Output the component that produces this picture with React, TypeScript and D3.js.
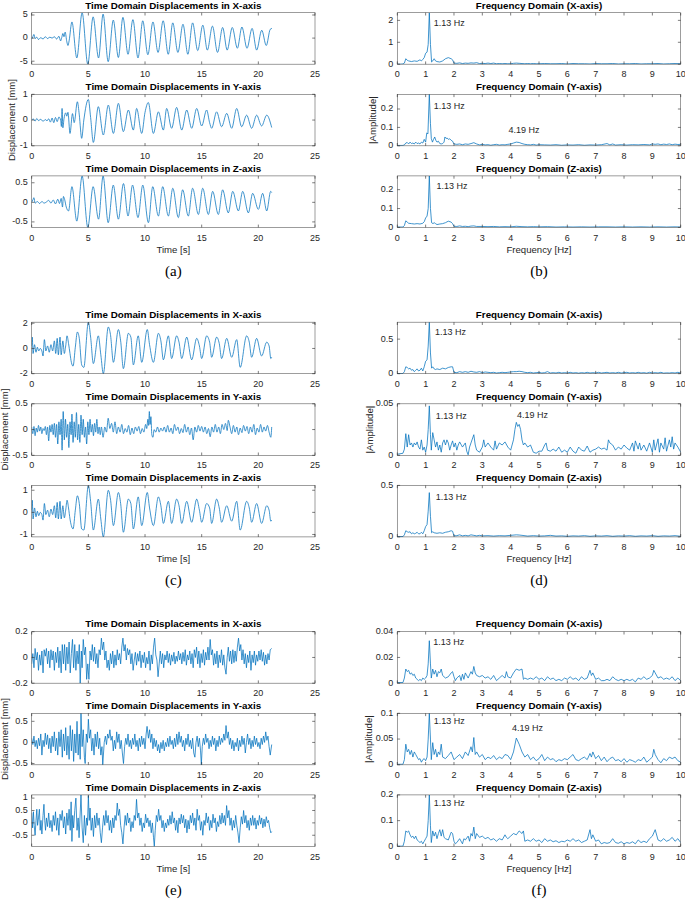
import React from 'react';
import * as d3 from 'd3';

type P = [number, number];

// ---------- tick labels / titles ----------
const timeTicks = [0, 5, 10, 15, 20, 25];
const freqTicks = [0, 1, 2, 3, 4, 5, 6, 7, 8, 9, 10];
const timeTitles = [
  'Time Domain Displacements in X-axis',
  'Time Domain Displacements in Y-axis',
  'Time Domain Displacements in Z-axis',
];
const freqTitles = ['Frequency Domain (X-axis)', 'Frequency Domain (Y-axis)', 'Frequency Domain (Z-axis)'];
const captionsLeft = ['(a)', '(c)', '(e)'];
const captionsRight = ['(b)', '(d)', '(f)'];

// ---------- time domain series ----------
const aX: P[] = [[0,-0.2],[0.1,0.3],[0.2,0.8],[0.3,-0.1],[0.45,0.2],[0.6,-0.3],[0.8,0.1],[1.0,-0.2],[1.2,0.3],[1.4,-0.1],[1.6,0.2],[1.8,0.0],[2.0,0.3],[2.2,-0.2],[2.4,0.4],[2.55,-0.6],[2.65,0.1],[2.75,1.0],[2.85,0.3],[2.95,1.3],[3.1,-0.8],[3.2,-1.6],[3.3,-0.6],
[3.55,3.5],[3.98,-4.3],[4.45,5.5],[4.95,-5.65],[5.42,4.6],[5.9,-4.3],[6.3,5.2],[6.75,-5.1],[7.2,3.9],[7.65,-4.2],[8.05,4.5],[8.5,-3.5],[8.93,4.0],[9.38,-4.3],[9.8,3.75],[10.25,-3.6],[10.7,3.5],[11.15,-3.1],[11.6,3.75],[12.05,-3.5],[12.45,3.3],[12.9,-3.1],[13.35,3.0],[13.78,-3.5],[14.2,3.3],[14.65,-2.7],[15.1,2.8],[15.5,-2.6],[15.95,2.6],[16.4,-3.1],[16.85,2.3],[17.25,-2.6],[17.7,2.3],[18.15,-2.2],[18.55,2.4],[19.0,-2.2],[19.45,2.1],[19.85,-2.6],[20.3,1.7],[20.7,-1.6],[21.05,1.9],[21.2,2.1]];

const aY: P[] = [[0,0.0],[0.15,0.04],[0.3,-0.04],[0.45,0.06],[0.6,-0.02],[0.8,0.03],[1.0,-0.05],[1.2,0.02],[1.35,-0.03],[1.5,0.05],[1.65,-0.08],[1.8,0.08],[1.95,-0.1],[2.1,0.1],[2.25,-0.06],[2.4,0.12],[2.55,0.0],[2.62,-0.25],[2.68,0.45],[2.75,-0.3],[2.85,0.05],[3.0,0.28],[3.1,0.15],[3.2,0.3],[3.38,-0.52],[3.6,0.25],[3.75,-0.1],[4.03,0.71],[4.2,0.2],[4.41,-0.71],[4.6,0.0],[5.0,0.8],[5.2,0.1],[5.44,-0.87],[5.88,0.52],[6.32,-0.58],[6.76,0.58],[7.21,-0.52],[7.65,0.65],[8.09,-0.45],[8.53,0.39],[8.97,-0.39],[9.26,0.45],[9.71,-0.52],[10.0,0.3],[10.29,0.68],[10.74,-0.52],[11.18,0.32],[11.62,-0.39],[11.91,0.45],[12.35,-0.32],[12.79,0.49],[13.24,-0.39],[13.68,0.39],[14.12,-0.32],[14.56,0.45],[15.0,-0.23],[15.44,0.39],[15.7,-0.1],[15.88,-0.32],[16.32,0.32],[16.76,-0.26],[17.21,0.26],[17.65,-0.32],[18.09,0.45],[18.53,-0.26],[18.97,0.19],[19.41,-0.32],[19.85,0.19],[20.29,-0.23],[20.74,0.19],[21.18,-0.29]];

const aZ: P[] = [[0,0.0],[0.1,0.06],[0.2,0.12],[0.3,-0.02],[0.5,0.02],[0.7,-0.03],[0.9,0.02],[1.1,-0.02],[1.3,0.01],[1.5,0.05],[1.7,-0.02],[1.9,0.06],[2.1,-0.04],[2.3,0.08],[2.45,-0.03],[2.6,0.1],[2.72,-0.12],[2.8,0.15],[2.9,0.08],[3.05,-0.12],[3.25,-0.22],[3.55,0.4],[3.98,-0.48],[4.45,0.67],[4.95,-0.64],[5.42,0.4],[5.9,-0.43],[6.3,0.67],[6.75,-0.52],[7.2,0.44],[7.65,-0.43],[8.1,0.48],[8.5,-0.35],[8.9,0.44],[9.38,-0.39],[9.8,0.44],[10.3,-0.52],[10.68,0.4],[11.18,-0.35],[11.56,0.4],[12.06,-0.35],[12.45,0.36],[12.94,-0.39],[13.32,0.32],[13.82,-0.35],[14.2,0.36],[14.71,-0.31],[15.09,0.36],[15.59,-0.31],[15.97,0.28],[16.47,-0.31],[16.85,0.32],[17.35,-0.27],[17.74,0.28],[18.24,-0.22],[18.62,0.28],[19.12,-0.27],[19.5,0.23],[20.0,-0.18],[20.38,0.23],[20.74,-0.22],[21.09,0.28],[21.18,0.25]];

const cX: P[] = [[0,0.2],[0.05,0.9],[0.12,-0.4],[0.25,0.3],[0.38,-0.3],[0.5,0.1],[0.62,-0.2],[0.75,0.0],[0.9,-0.2],[1.0,-0.6],[1.12,0.7],[1.25,-0.2],[1.4,0.2],[1.55,-0.3],[1.7,0.3],[1.85,-0.2],[2.0,0.6],[2.12,-0.4],[2.25,0.8],[2.35,-0.5],[2.5,0.9],[2.6,-0.5],[2.75,0.6],[2.88,-0.4],[3.0,0.2],[3.12,1.0],[3.25,0.4],[3.38,-0.4],[3.5,-1.1],[3.65,-1.4],[3.85,0.1],[4.03,1.3],[4.2,0.8],[4.41,-1.3],[4.6,-1.5],[5.0,2.08],[5.2,0.9],[5.44,-1.2],[5.88,1.0],[6.1,-0.5],[6.32,-2.0],[6.76,1.7],[6.95,1.1],[7.21,-1.1],[7.65,1.5],[7.85,0.6],[8.09,-1.6],[8.53,1.2],[8.75,0.9],[8.97,-1.3],[9.4,1.0],[9.71,-1.1],[10.2,1.5],[10.4,0.3],[10.74,-1.1],[11.18,1.2],[11.4,0.6],[11.62,-0.9],[12.06,1.0],[12.35,-0.8],[12.79,1.0],[13.0,0.5],[13.24,-0.8],[13.68,0.9],[14.12,-0.9],[14.56,0.8],[14.8,0.2],[15.0,-0.8],[15.44,1.0],[15.7,0.5],[15.88,-0.7],[16.32,0.9],[16.55,0.4],[16.76,-0.8],[17.21,0.8],[17.65,-0.7],[18.09,0.7],[18.4,-1.5],[18.97,1.0],[19.2,0.5],[19.41,-0.7],[19.85,0.8],[20.29,-0.6],[20.74,0.5],[20.95,0.2],[21.1,-0.8],[21.18,-0.7]];

const cY: P[] = [[0,0.05],[0.1,-0.08],[0.2,0.06],[0.3,-0.12],[0.4,0.03],[0.5,-0.05],[0.6,0.08],[0.7,-0.03],[0.8,0.05],[0.9,-0.08],[1.0,0.02],[1.1,-0.02],[1.2,0.06],[1.3,-0.1],[1.4,0.05],[1.5,-0.22],[1.6,0.08],[1.7,-0.05],[1.8,0.1],[1.9,-0.1],[2.0,0.12],[2.1,-0.15],[2.2,0.1],[2.3,-0.28],[2.4,0.15],[2.5,-0.1],[2.6,0.2],[2.68,-0.4],[2.78,0.35],[2.88,-0.2],[2.98,0.2],[3.08,-0.15],[3.18,0.1],[3.28,-0.35],[3.38,0.15],[3.48,-0.1],[3.55,0.3],[3.65,-0.25],[3.75,0.15],[3.85,-0.15],[3.95,0.33],[4.05,-0.2],[4.15,0.1],[4.25,-0.25],[4.35,0.28],[4.45,-0.1],[4.55,0.2],[4.65,-0.15],[4.75,0.05],[4.85,-0.28],[4.95,0.15],[5.05,-0.1],[5.15,0.2],[5.25,-0.05],[5.35,0.1],[5.45,-0.12],[5.55,0.12],[5.65,-0.05],[5.75,0.2],[5.85,-0.08],[5.95,0.05],[6.05,-0.1],[6.15,0.05],[6.3,-0.15],[6.45,0.05],[6.6,-0.05],[6.75,0.22],[6.9,0.02],[7.05,0.12],[7.2,-0.05],[7.35,0.15],[7.5,-0.08],[7.65,0.05],[7.8,-0.05],[7.95,0.1],[8.1,-0.08],[8.25,0.02],[8.4,-0.05],[8.55,0.08],[8.7,-0.1],[8.85,0.03],[9.0,-0.08],[9.15,0.05],[9.3,-0.03],[9.45,0.06],[9.6,-0.08],[9.75,0.02],[9.9,-0.05],[10.05,0.1],[10.15,0.02],[10.25,0.2],[10.32,0.08],[10.38,0.35],[10.45,0.1],[10.52,0.25],[10.6,-0.1],[10.7,-0.15],[10.8,0.0],[10.95,-0.05],[11.1,0.05],[11.25,-0.05],[11.4,0.03],[11.55,-0.03],[11.7,0.05],[11.85,-0.05],[12.0,0.08],[12.15,-0.05],[12.3,0.03],[12.45,-0.08],[12.6,0.1],[12.75,-0.02],[12.9,0.05],[13.05,-0.08],[13.2,0.02],[13.35,-0.06],[13.5,0.1],[13.65,-0.05],[13.8,0.05],[13.95,-0.1],[14.1,0.03],[14.25,-0.2],[14.4,0.05],[14.55,-0.05],[14.7,0.08],[14.85,-0.03],[15.0,0.06],[15.15,-0.05],[15.3,0.05],[15.45,-0.08],[15.6,0.02],[15.75,-0.14],[15.9,0.05],[16.05,-0.05],[16.2,0.1],[16.35,-0.05],[16.5,0.05],[16.65,-0.08],[16.8,0.1],[16.95,0.0],[17.1,0.12],[17.25,-0.02],[17.35,0.18],[17.5,0.05],[17.65,-0.08],[17.8,0.08],[17.95,-0.05],[18.1,0.05],[18.25,-0.1],[18.4,0.03],[18.55,-0.06],[18.7,0.08],[18.85,-0.03],[19.0,0.06],[19.15,-0.08],[19.3,0.05],[19.45,-0.05],[19.6,0.1],[19.75,-0.1],[19.9,0.03],[20.05,-0.05],[20.2,0.1],[20.35,-0.05],[20.5,0.05],[20.65,-0.03],[20.8,0.08],[20.95,-0.05],[21.1,-0.15],[21.18,0.05]];

const cZ: P[] = [[0,0.1],[0.05,0.55],[0.12,-0.3],[0.25,0.2],[0.38,-0.2],[0.5,0.05],[0.62,-0.15],[0.75,0.0],[0.9,-0.1],[1.0,-0.35],[1.12,0.4],[1.25,-0.1],[1.4,0.1],[1.55,-0.2],[1.7,0.15],[1.85,-0.1],[2.0,0.3],[2.12,-0.25],[2.25,0.45],[2.35,-0.3],[2.5,0.5],[2.6,-0.3],[2.75,0.3],[2.88,-0.25],[3.0,0.1],[3.12,0.55],[3.25,0.2],[3.38,-0.3],[3.5,-0.6],[3.65,-0.75],[3.85,0.1],[4.03,0.75],[4.2,0.4],[4.41,-0.75],[4.6,-0.8],[5.0,1.22],[5.2,0.5],[5.44,-0.8],[5.88,0.6],[6.1,-0.3],[6.32,-1.11],[6.76,1.0],[6.95,0.6],[7.21,-0.6],[7.65,0.9],[7.85,0.4],[8.09,-0.9],[8.53,0.6],[8.75,0.4],[8.97,-0.75],[9.4,0.7],[9.71,-0.6],[10.2,0.9],[10.4,0.2],[10.74,-0.6],[11.18,0.7],[11.4,0.3],[11.62,-0.5],[12.06,0.5],[12.35,-0.5],[12.79,0.6],[13.0,0.3],[13.24,-0.5],[13.68,0.5],[14.12,-0.45],[14.56,0.6],[14.8,0.1],[15.0,-0.45],[15.44,0.4],[15.7,0.2],[15.88,-0.5],[16.32,0.6],[16.55,0.2],[16.76,-0.45],[17.21,0.3],[17.65,-0.4],[18.09,0.5],[18.4,-0.8],[18.97,0.5],[19.2,0.2],[19.41,-0.45],[19.85,0.4],[20.29,-0.5],[20.74,0.3],[20.95,0.1],[21.1,-0.4],[21.18,-0.35]];

const eX: P[] = [[0,-0.05],[0.1,0.03],[0.2,-0.08],[0.3,0.07],[0.4,-0.02],[0.5,0.04],[0.6,-0.1],[0.7,0.02],[0.8,-0.06],[0.9,0.05],[1.0,-0.12],[1.1,0.06],[1.2,0.01],[1.3,0.07],[1.4,-0.05],[1.5,0.05],[1.6,-0.08],[1.7,0.06],[1.8,-0.02],[1.9,0.05],[2.0,-0.1],[2.1,0.04],[2.2,-0.04],[2.3,0.08],[2.4,-0.08],[2.5,0.05],[2.6,-0.12],[2.7,0.1],[2.8,-0.05],[2.9,0.1],[3.0,-0.1],[3.1,0.08],[3.2,-0.05],[3.3,0.12],[3.4,-0.12],[3.5,0.03],[3.6,0.14],[3.7,-0.08],[3.8,0.1],[3.9,-0.1],[4.0,0.05],[4.1,-0.05],[4.2,0.1],[4.28,-0.2],[4.38,0.05],[4.45,-0.08],[4.55,0.14],[4.65,0.02],[4.75,0.08],[4.85,-0.17],[4.95,-0.05],[5.05,-0.17],[5.15,0.05],[5.25,-0.02],[5.35,0.1],[5.45,-0.03],[5.55,0.08],[5.65,-0.05],[5.75,0.03],[5.85,-0.08],[5.95,0.06],[6.05,0.02],[6.15,0.15],[6.25,0.06],[6.35,0.12],[6.45,-0.02],[6.55,0.05],[6.65,-0.08],[6.75,-0.02],[6.85,-0.1],[6.95,0.03],[7.05,-0.05],[7.15,0.05],[7.25,-0.08],[7.35,0.02],[7.45,-0.06],[7.55,0.06],[7.65,-0.02],[7.75,0.03],[7.85,-0.05],[7.95,0.08],[8.05,0.15],[8.15,0.05],[8.25,0.1],[8.35,-0.02],[8.45,0.07],[8.55,0.02],[8.65,0.06],[8.75,-0.05],[8.85,0.03],[8.95,-0.1],[9.05,-0.02],[9.15,0.04],[9.25,-0.06],[9.35,0.03],[9.45,-0.03],[9.55,0.05],[9.65,-0.08],[9.75,0.02],[9.85,-0.04],[9.95,0.04],[10.05,-0.08],[10.15,0.0],[10.25,-0.05],[10.35,0.05],[10.45,-0.1],[10.55,0.02],[10.65,-0.05],[10.75,0.08],[10.85,0.15],[10.95,0.02],[11.05,-0.02],[11.15,-0.15],[11.25,-0.05],[11.35,0.05],[11.45,-0.05],[11.55,0.03],[11.65,-0.08],[11.75,0.02],[11.85,-0.02],[11.95,0.05],[12.05,-0.04],[12.15,0.03],[12.25,-0.06],[12.35,0.02],[12.45,-0.03],[12.55,0.04],[12.65,-0.05],[12.75,0.01],[12.85,-0.03],[12.95,0.05],[13.05,-0.02],[13.15,0.03],[13.25,-0.05],[13.35,0.04],[13.45,-0.03],[13.55,0.06],[13.65,-0.06],[13.75,0.02],[13.85,-0.02],[13.95,0.05],[14.05,-0.05],[14.15,0.03],[14.25,-0.08],[14.35,0.06],[14.45,0.0],[14.55,0.08],[14.65,-0.05],[14.75,0.05],[14.85,-0.08],[14.95,0.03],[15.05,-0.04],[15.15,0.06],[15.25,-0.06],[15.35,0.04],[15.45,-0.02],[15.55,0.08],[15.65,-0.02],[15.75,0.14],[15.85,0.02],[15.95,0.06],[16.05,-0.06],[16.15,0.03],[16.25,-0.05],[16.35,0.05],[16.45,-0.08],[16.55,0.02],[16.65,-0.04],[16.75,0.06],[16.85,-0.06],[16.95,0.02],[17.05,-0.08],[17.15,-0.13],[17.25,0.0],[17.35,0.08],[17.45,-0.03],[17.55,0.05],[17.65,-0.05],[17.75,0.06],[17.85,-0.04],[17.95,0.05],[18.05,-0.03],[18.15,0.08],[18.25,0.15],[18.35,0.05],[18.45,0.1],[18.55,-0.02],[18.65,0.06],[18.75,-0.05],[18.85,0.03],[18.95,-0.08],[19.05,0.02],[19.15,-0.04],[19.25,0.05],[19.35,-0.1],[19.45,0.02],[19.55,-0.04],[19.65,0.05],[19.75,-0.06],[19.85,0.02],[19.95,-0.03],[20.05,0.05],[20.15,-0.02],[20.25,0.06],[20.35,-0.03],[20.45,0.04],[20.55,-0.06],[20.65,0.02],[20.75,-0.05],[20.85,0.03],[20.95,-0.02],[21.05,0.06],[21.18,0.07]];

const eY: P[] = [[0,0.1],[0.1,-0.05],[0.2,0.15],[0.3,-0.1],[0.4,0.05],[0.5,-0.15],[0.6,0.1],[0.7,-0.08],[0.8,0.2],[0.9,-0.3],[1.0,0.05],[1.1,-0.1],[1.2,0.22],[1.3,-0.05],[1.4,0.18],[1.5,-0.15],[1.6,0.1],[1.7,-0.25],[1.8,0.15],[1.9,-0.1],[2.0,0.25],[2.1,-0.2],[2.2,0.1],[2.3,-0.3],[2.4,0.25],[2.5,-0.1],[2.6,0.3],[2.7,-0.35],[2.8,0.2],[2.9,-0.2],[3.0,0.35],[3.1,-0.3],[3.2,0.15],[3.3,-0.4],[3.4,0.4],[3.5,-0.2],[3.6,0.3],[3.7,-0.45],[3.8,0.2],[3.9,-0.25],[4.0,0.5],[4.1,-0.3],[4.2,0.2],[4.28,-0.4],[4.35,0.69],[4.45,-0.1],[4.55,0.3],[4.65,-0.35],[4.72,-0.5],[4.82,0.2],[4.92,0.0],[5.0,0.55],[5.1,0.1],[5.2,0.3],[5.3,-0.2],[5.4,0.1],[5.5,-0.3],[5.6,0.2],[5.7,-0.1],[5.8,0.25],[5.9,-0.15],[6.0,0.1],[6.1,-0.3],[6.2,-0.1],[6.27,-0.53],[6.4,0.0],[6.5,0.15],[6.6,-0.05],[6.7,0.2],[6.8,0.1],[6.9,0.3],[7.0,0.05],[7.1,0.15],[7.2,-0.2],[7.3,0.05],[7.4,-0.15],[7.5,0.25],[7.6,0.0],[7.7,0.2],[7.8,-0.15],[7.9,0.05],[8.0,-0.25],[8.1,-0.5],[8.2,-0.1],[8.3,0.1],[8.4,-0.05],[8.5,0.2],[8.6,-0.1],[8.7,0.05],[8.8,-0.15],[8.9,0.1],[9.0,-0.05],[9.1,0.2],[9.2,-0.1],[9.3,0.05],[9.4,-0.2],[9.5,0.1],[9.6,-0.1],[9.7,0.15],[9.8,-0.05],[9.9,0.1],[10.0,-0.15],[10.1,0.2],[10.18,0.38],[10.3,0.1],[10.4,0.3],[10.5,0.0],[10.6,0.2],[10.7,-0.15],[10.8,0.1],[10.9,-0.1],[11.0,0.05],[11.1,-0.2],[11.2,-0.05],[11.3,-0.25],[11.4,0.0],[11.5,-0.15],[11.6,0.05],[11.7,-0.2],[11.8,0.0],[11.9,-0.1],[12.0,0.1],[12.1,-0.1],[12.2,0.15],[12.3,-0.05],[12.4,0.05],[12.5,-0.15],[12.6,0.1],[12.7,-0.1],[12.8,0.2],[12.9,-0.05],[13.0,0.25],[13.1,0.0],[13.2,0.15],[13.3,-0.1],[13.4,0.05],[13.5,-0.2],[13.6,0.1],[13.7,-0.05],[13.8,0.2],[13.9,-0.1],[14.0,0.05],[14.1,-0.15],[14.2,0.1],[14.3,-0.25],[14.4,-0.35],[14.5,0.0],[14.6,0.15],[14.7,-0.1],[14.8,0.1],[14.9,-0.2],[14.97,-0.53],[15.05,-0.1],[15.15,0.1],[15.25,-0.05],[15.35,0.2],[15.45,0.0],[15.55,0.1],[15.65,-0.15],[15.75,0.05],[15.85,-0.1],[15.95,0.15],[16.05,-0.05],[16.15,0.1],[16.25,-0.2],[16.35,0.05],[16.45,-0.1],[16.55,0.15],[16.65,-0.05],[16.75,0.1],[16.85,0.0],[16.95,0.2],[17.05,0.05],[17.15,0.4],[17.25,0.1],[17.35,0.25],[17.45,-0.05],[17.55,0.1],[17.65,-0.15],[17.75,0.05],[17.85,-0.2],[17.95,0.0],[18.05,-0.1],[18.15,0.1],[18.25,-0.2],[18.35,0.05],[18.45,-0.1],[18.55,0.15],[18.65,-0.05],[18.75,0.1],[18.85,-0.25],[18.95,0.0],[19.05,0.2],[19.15,-0.05],[19.25,0.1],[19.35,-0.15],[19.45,0.05],[19.55,-0.1],[19.65,0.15],[19.75,-0.05],[19.85,0.1],[19.95,-0.1],[20.05,0.0],[20.15,-0.15],[20.25,0.1],[20.35,-0.05],[20.45,0.15],[20.55,0.0],[20.65,0.25],[20.75,0.05],[20.85,0.15],[20.95,-0.1],[21.05,-0.3],[21.18,-0.05]];

const eZ: P[] = [[0,0.4],[0.08,-0.2],[0.15,0.45],[0.22,-0.1],[0.3,-0.5],[0.38,0.1],[0.45,0.55],[0.52,-0.1],[0.6,0.2],[0.68,0.55],[0.75,-0.3],[0.82,0.1],[0.9,-0.45],[1.0,0.3],[1.08,0.75],[1.15,0.1],[1.22,-0.3],[1.3,0.2],[1.4,-0.15],[1.5,0.4],[1.6,-0.2],[1.7,0.1],[1.8,-0.35],[1.9,0.3],[2.0,-0.1],[2.1,0.45],[2.2,-0.3],[2.3,0.2],[2.4,-0.5],[2.5,0.35],[2.6,0.1],[2.7,0.5],[2.8,-0.2],[2.9,0.25],[3.0,-0.45],[3.1,0.4],[3.2,-0.1],[3.3,0.55],[3.4,-0.3],[3.48,0.85],[3.55,-0.75],[3.62,0.3],[3.7,-0.2],[3.8,0.5],[3.9,1.0],[4.0,-0.3],[4.1,0.2],[4.18,-0.6],[4.28,0.4],[4.35,1.13],[4.45,-0.2],[4.55,-0.8],[4.65,0.3],[4.75,-0.5],[4.85,0.2],[4.92,-0.1],[5.0,1.1],[5.08,0.1],[5.15,0.6],[5.25,-0.3],[5.35,0.2],[5.45,-0.55],[5.55,0.3],[5.65,-0.2],[5.75,0.4],[5.85,-0.1],[5.95,0.2],[6.05,-0.4],[6.15,-0.8],[6.25,-0.2],[6.35,0.3],[6.45,-0.1],[6.55,0.5],[6.65,0.0],[6.75,0.3],[6.85,-0.3],[6.95,0.1],[7.05,-0.4],[7.15,0.2],[7.25,-0.2],[7.35,0.3],[7.45,0.1],[7.55,0.8],[7.65,0.3],[7.75,0.55],[7.85,-0.1],[7.95,-0.4],[8.05,-0.85],[8.15,-0.2],[8.25,0.3],[8.35,-0.1],[8.45,0.4],[8.55,0.0],[8.65,0.2],[8.75,-0.35],[8.85,0.05],[8.95,-0.2],[9.05,0.3],[9.15,0.1],[9.25,0.95],[9.35,0.2],[9.45,0.4],[9.55,-0.1],[9.65,0.2],[9.75,-0.35],[9.85,0.0],[9.95,-0.2],[10.05,0.35],[10.15,0.0],[10.25,0.2],[10.35,-0.15],[10.45,0.1],[10.55,-0.4],[10.65,0.0],[10.75,-0.6],[10.82,-0.95],[10.9,-0.3],[11.0,0.3],[11.1,0.05],[11.2,0.55],[11.3,0.1],[11.4,0.3],[11.5,-0.2],[11.6,0.1],[11.7,-0.35],[11.8,0.0],[11.9,-0.2],[12.0,0.15],[12.1,-0.1],[12.2,0.3],[12.3,-0.05],[12.4,0.45],[12.5,0.0],[12.6,0.2],[12.7,-0.3],[12.8,0.1],[12.9,-0.4],[13.0,0.2],[13.1,-0.05],[13.2,0.35],[13.3,0.0],[13.4,0.3],[13.5,-0.2],[13.6,0.15],[13.7,-0.4],[13.8,0.1],[13.9,-0.25],[14.0,0.3],[14.1,0.0],[14.2,0.4],[14.3,-0.1],[14.4,0.2],[14.5,-0.3],[14.6,0.55],[14.7,0.1],[14.8,0.3],[14.9,-0.3],[15.0,0.05],[15.1,-0.5],[15.2,0.1],[15.3,-0.1],[15.4,0.4],[15.5,0.0],[15.6,0.25],[15.7,-0.3],[15.8,0.1],[15.9,-0.2],[16.0,0.35],[16.1,0.0],[16.2,0.2],[16.3,-0.35],[16.4,0.05],[16.5,-0.15],[16.6,0.3],[16.7,-0.05],[16.8,0.4],[16.9,0.0],[17.0,0.3],[17.1,-0.1],[17.2,0.7],[17.3,0.2],[17.4,0.5],[17.5,-0.1],[17.6,0.2],[17.7,-0.3],[17.8,0.1],[17.9,-0.2],[18.0,0.3],[18.1,-0.1],[18.2,-0.4],[18.3,-0.8],[18.4,-0.2],[18.5,0.25],[18.6,-0.05],[18.7,0.5],[18.8,0.0],[18.9,0.3],[19.0,-0.2],[19.1,0.1],[19.2,-0.3],[19.3,0.2],[19.4,-0.1],[19.5,0.3],[19.6,-0.1],[19.7,0.2],[19.8,-0.25],[19.9,0.1],[20.0,-0.1],[20.1,0.3],[20.2,-0.05],[20.3,0.2],[20.4,-0.2],[20.5,0.15],[20.6,-0.15],[20.7,0.25],[20.8,0.0],[20.9,0.1],[21.0,-0.2],[21.1,-0.4],[21.18,-0.35]];

// ---------- frequency domain series ----------
const bX: P[] = [[0,0],[0.1,0.0],[0.2,0.01],[0.25,0.05],[0.3,0.25],[0.35,0.18],[0.4,0.15],[0.5,0.12],[0.6,0.15],[0.7,0.13],[0.8,0.2],[0.85,0.15],[0.9,0.22],[0.95,0.3],[1.0,0.5],[1.05,0.55],[1.09,0.9],[1.13,2.35],[1.17,0.9],[1.21,0.1],[1.25,0.15],[1.3,0.25],[1.35,0.15],[1.4,0.12],[1.5,0.1],[1.6,0.15],[1.7,0.25],[1.8,0.3],[1.9,0.25],[1.95,0.2],[2.0,0.05],[2.1,0.04],[2.2,0.06],[2.3,0.03],[2.4,0.05],[2.5,0.04],[2.6,0.06],[2.7,0.05],[2.8,0.07],[2.9,0.03],[3.0,0.04],[3.1,0.03],[3.2,0.05],[3.3,0.03],[3.4,0.05],[3.5,0.02],[3.6,0.03],[3.7,0.02],[3.8,0.03],[3.9,0.02],[4.0,0.02],[4.1,0.04],[4.2,0.05],[4.3,0.04],[4.4,0.03],[4.5,0.02],[4.6,0.03],[4.7,0.02],[4.8,0.03],[4.9,0.02],[5.0,0.02],[5.2,0.03],[5.4,0.02],[5.6,0.02],[5.8,0.03],[6.0,0.01],[6.2,0.03],[6.4,0.02],[6.6,0.02],[6.8,0.01],[7.0,0.03],[7.2,0.02],[7.4,0.02],[7.6,0.03],[7.8,0.01],[8.0,0.02],[8.2,0.02],[8.4,0.03],[8.6,0.01],[8.8,0.02],[9.0,0.02],[9.2,0.03],[9.4,0.01],[9.6,0.02],[9.8,0.03],[10,0.02]];

const bY: P[] = [[0,0.002],[0.2,0.002],[0.25,0.005],[0.3,0.015],[0.35,0.018],[0.4,0.01],[0.45,0.02],[0.5,0.012],[0.55,0.015],[0.6,0.01],[0.65,0.02],[0.7,0.012],[0.75,0.015],[0.8,0.01],[0.85,0.02],[0.9,0.015],[0.95,0.035],[1.0,0.02],[1.04,0.07],[1.08,0.065],[1.13,0.28],[1.17,0.12],[1.2,0.04],[1.24,0.02],[1.28,0.035],[1.32,0.048],[1.36,0.03],[1.4,0.02],[1.45,0.025],[1.5,0.012],[1.55,0.01],[1.6,0.012],[1.65,0.02],[1.68,0.048],[1.72,0.04],[1.76,0.042],[1.8,0.035],[1.85,0.038],[1.9,0.03],[1.95,0.025],[2.0,0.01],[2.1,0.008],[2.2,0.01],[2.3,0.006],[2.4,0.01],[2.5,0.008],[2.6,0.012],[2.7,0.017],[2.8,0.01],[2.9,0.005],[3.0,0.008],[3.1,0.005],[3.2,0.006],[3.3,0.003],[3.4,0.006],[3.5,0.008],[3.6,0.004],[3.7,0.006],[3.8,0.005],[3.9,0.008],[4.0,0.01],[4.1,0.015],[4.2,0.02],[4.3,0.018],[4.4,0.012],[4.5,0.008],[4.6,0.006],[4.7,0.005],[4.8,0.008],[4.9,0.004],[5.0,0.006],[5.2,0.005],[5.4,0.004],[5.6,0.006],[5.8,0.003],[6.0,0.005],[6.2,0.004],[6.4,0.006],[6.6,0.003],[6.8,0.005],[7.0,0.004],[7.2,0.006],[7.4,0.012],[7.5,0.005],[7.6,0.01],[7.7,0.004],[7.9,0.006],[8.1,0.004],[8.3,0.006],[8.5,0.005],[8.7,0.007],[8.9,0.005],[9.0,0.01],[9.1,0.008],[9.2,0.01],[9.3,0.006],[9.4,0.009],[9.5,0.007],[9.6,0.01],[9.7,0.006],[9.8,0.009],[9.9,0.007],[10,0.008]];

const bZ: P[] = [[0,0.002],[0.2,0.002],[0.25,0.01],[0.3,0.035],[0.35,0.028],[0.4,0.022],[0.5,0.02],[0.6,0.018],[0.7,0.02],[0.8,0.018],[0.9,0.022],[0.95,0.03],[1.0,0.05],[1.05,0.06],[1.09,0.1],[1.13,0.273],[1.17,0.1],[1.21,0.025],[1.26,0.02],[1.3,0.025],[1.35,0.02],[1.4,0.015],[1.5,0.018],[1.6,0.02],[1.7,0.025],[1.8,0.033],[1.9,0.028],[1.95,0.02],[2.0,0.006],[2.1,0.005],[2.2,0.008],[2.3,0.005],[2.4,0.006],[2.5,0.004],[2.6,0.007],[2.7,0.008],[2.8,0.005],[3.0,0.005],[3.2,0.004],[3.4,0.005],[3.6,0.003],[3.8,0.004],[4.0,0.003],[4.2,0.006],[4.4,0.004],[4.6,0.003],[4.8,0.004],[5.0,0.003],[5.3,0.004],[5.6,0.002],[5.9,0.003],[6.2,0.002],[6.5,0.003],[6.8,0.002],[7.1,0.003],[7.4,0.003],[7.7,0.002],[8.0,0.003],[8.3,0.002],[8.6,0.003],[8.9,0.002],[9.2,0.003],[9.5,0.002],[9.8,0.003],[10,0.002]];

const dX: P[] = [[0,0.002],[0.2,0.003],[0.25,0.03],[0.3,0.1],[0.35,0.09],[0.4,0.07],[0.45,0.08],[0.5,0.05],[0.55,0.06],[0.6,0.03],[0.65,0.05],[0.7,0.07],[0.75,0.04],[0.8,0.05],[0.85,0.08],[0.9,0.04],[0.95,0.1],[1.0,0.18],[1.05,0.2],[1.09,0.4],[1.13,0.745],[1.17,0.3],[1.21,0.08],[1.25,0.1],[1.3,0.07],[1.35,0.06],[1.4,0.07],[1.5,0.06],[1.6,0.08],[1.7,0.07],[1.8,0.09],[1.9,0.1],[1.95,0.1],[2.0,0.02],[2.1,0.015],[2.2,0.03],[2.3,0.02],[2.4,0.03],[2.5,0.02],[2.6,0.035],[2.7,0.025],[2.8,0.02],[2.9,0.03],[3.0,0.015],[3.1,0.025],[3.2,0.02],[3.3,0.015],[3.4,0.02],[3.5,0.01],[3.6,0.015],[3.7,0.02],[3.8,0.015],[3.9,0.02],[4.0,0.025],[4.1,0.03],[4.2,0.03],[4.3,0.035],[4.4,0.03],[4.5,0.02],[4.6,0.015],[4.7,0.02],[4.8,0.01],[4.9,0.015],[5.0,0.02],[5.1,0.01],[5.2,0.015],[5.3,0.03],[5.4,0.01],[5.5,0.015],[5.6,0.01],[5.7,0.02],[5.8,0.01],[5.9,0.015],[6.0,0.01],[6.1,0.02],[6.2,0.01],[6.3,0.015],[6.4,0.008],[6.5,0.015],[6.6,0.01],[6.7,0.02],[6.8,0.01],[6.9,0.015],[7.0,0.01],[7.1,0.02],[7.2,0.01],[7.3,0.015],[7.4,0.02],[7.5,0.01],[7.6,0.015],[7.7,0.01],[7.8,0.02],[7.9,0.01],[8.0,0.015],[8.1,0.02],[8.2,0.01],[8.3,0.015],[8.4,0.01],[8.5,0.02],[8.6,0.01],[8.7,0.015],[8.8,0.008],[8.9,0.02],[9.0,0.01],[9.1,0.015],[9.2,0.01],[9.3,0.02],[9.4,0.008],[9.5,0.012],[9.6,0.01],[9.7,0.015],[9.8,0.01],[9.9,0.02],[10,0.01]];

const dY: P[] = [[0,0.001],[0.2,0.002],[0.25,0.006],[0.3,0.021],[0.35,0.008],[0.4,0.02],[0.45,0.01],[0.5,0.012],[0.55,0.008],[0.6,0.012],[0.65,0.01],[0.7,0.013],[0.75,0.008],[0.8,0.006],[0.85,0.015],[0.9,0.005],[0.95,0.008],[1.0,0.003],[1.05,0.01],[1.09,0.025],[1.13,0.048],[1.17,0.02],[1.2,0.005],[1.25,0.022],[1.3,0.015],[1.35,0.008],[1.4,0.013],[1.45,0.005],[1.5,0.01],[1.55,0.003],[1.6,0.012],[1.65,0.015],[1.7,0.01],[1.75,0.015],[1.8,0.012],[1.85,0.005],[1.9,0.01],[1.95,0.014],[2.0,0.008],[2.05,0.012],[2.1,0.005],[2.15,0.01],[2.2,0.013],[2.3,0.008],[2.4,0.012],[2.45,0.004],[2.5,0.0005],[2.55,0.008],[2.6,0.012],[2.7,0.02],[2.75,0.01],[2.8,0.005],[2.9,0.003],[3.0,0.008],[3.05,0.015],[3.1,0.008],[3.2,0.012],[3.3,0.008],[3.4,0.005],[3.45,0.014],[3.5,0.006],[3.6,0.012],[3.7,0.01],[3.8,0.013],[3.9,0.008],[4.0,0.005],[4.1,0.015],[4.15,0.025],[4.2,0.032],[4.25,0.028],[4.3,0.03],[4.35,0.025],[4.4,0.015],[4.45,0.01],[4.5,0.012],[4.6,0.008],[4.7,0.01],[4.8,0.003],[4.9,0.002],[5.0,0.004],[5.1,0.004],[5.2,0.01],[5.25,0.012],[5.3,0.005],[5.4,0.004],[5.5,0.006],[5.6,0.004],[5.7,0.008],[5.8,0.003],[5.9,0.005],[6.0,0.003],[6.1,0.008],[6.2,0.004],[6.3,0.002],[6.4,0.008],[6.5,0.005],[6.6,0.004],[6.7,0.009],[6.8,0.003],[6.9,0.005],[7.0,0.006],[7.1,0.008],[7.2,0.006],[7.3,0.007],[7.4,0.005],[7.45,0.015],[7.5,0.012],[7.6,0.01],[7.7,0.005],[7.8,0.008],[7.9,0.006],[8.0,0.01],[8.1,0.007],[8.2,0.005],[8.3,0.012],[8.35,0.004],[8.4,0.014],[8.5,0.006],[8.55,0.012],[8.6,0.005],[8.7,0.01],[8.8,0.004],[8.9,0.012],[9.0,0.003],[9.05,0.015],[9.1,0.005],[9.2,0.016],[9.25,0.003],[9.3,0.012],[9.4,0.006],[9.45,0.017],[9.5,0.004],[9.6,0.015],[9.65,0.008],[9.7,0.018],[9.75,0.006],[9.8,0.012],[9.9,0.008],[10,0.003]];

const dZ: P[] = [[0,0.002],[0.2,0.003],[0.25,0.02],[0.3,0.06],[0.35,0.05],[0.4,0.045],[0.45,0.05],[0.5,0.03],[0.55,0.04],[0.6,0.03],[0.65,0.035],[0.7,0.045],[0.75,0.03],[0.8,0.03],[0.85,0.045],[0.9,0.03],[0.95,0.06],[1.0,0.1],[1.05,0.12],[1.09,0.25],[1.13,0.43],[1.17,0.2],[1.21,0.04],[1.25,0.05],[1.3,0.04],[1.4,0.035],[1.5,0.04],[1.6,0.035],[1.7,0.045],[1.8,0.05],[1.9,0.06],[1.95,0.055],[2.0,0.01],[2.1,0.012],[2.2,0.02],[2.3,0.01],[2.4,0.015],[2.5,0.01],[2.6,0.02],[2.7,0.015],[2.8,0.01],[2.9,0.015],[3.0,0.01],[3.2,0.012],[3.4,0.008],[3.6,0.012],[3.8,0.01],[4.0,0.015],[4.2,0.02],[4.3,0.018],[4.4,0.015],[4.6,0.008],[4.8,0.012],[5.0,0.008],[5.2,0.01],[5.4,0.015],[5.6,0.008],[5.8,0.01],[6.0,0.006],[6.2,0.01],[6.4,0.008],[6.6,0.012],[6.8,0.006],[7.0,0.01],[7.2,0.008],[7.4,0.012],[7.6,0.006],[7.8,0.01],[8.0,0.008],[8.2,0.012],[8.4,0.006],[8.6,0.01],[8.8,0.008],[9.0,0.012],[9.2,0.006],[9.4,0.01],[9.6,0.008],[9.8,0.012],[10,0.006]];

const fX: P[] = [[0,0.0005],[0.2,0.0005],[0.25,0.004],[0.3,0.011],[0.35,0.009],[0.4,0.01],[0.45,0.007],[0.5,0.008],[0.55,0.006],[0.6,0.007],[0.65,0.004],[0.7,0.003],[0.75,0.002],[0.8,0.003],[0.85,0.002],[0.9,0.004],[0.95,0.003],[1.0,0.004],[1.05,0.006],[1.09,0.015],[1.13,0.033],[1.17,0.015],[1.2,0.004],[1.25,0.011],[1.3,0.007],[1.35,0.01],[1.4,0.005],[1.45,0.009],[1.5,0.008],[1.55,0.011],[1.6,0.006],[1.7,0.004],[1.8,0.005],[1.9,0.008],[1.95,0.009],[2.0,0.005],[2.05,0.002],[2.1,0.004],[2.2,0.006],[2.25,0.002],[2.3,0.007],[2.35,0.003],[2.4,0.008],[2.5,0.004],[2.6,0.009],[2.65,0.007],[2.7,0.013],[2.75,0.008],[2.8,0.006],[2.9,0.005],[3.0,0.006],[3.1,0.004],[3.2,0.005],[3.3,0.003],[3.4,0.006],[3.5,0.002],[3.6,0.004],[3.7,0.006],[3.8,0.004],[3.85,0.009],[3.9,0.005],[4.0,0.004],[4.1,0.008],[4.2,0.011],[4.3,0.01],[4.4,0.011],[4.45,0.003],[4.5,0.004],[4.6,0.003],[4.7,0.004],[4.8,0.003],[4.9,0.005],[5.0,0.003],[5.1,0.004],[5.2,0.002],[5.3,0.005],[5.4,0.003],[5.5,0.004],[5.6,0.002],[5.7,0.003],[5.8,0.002],[5.9,0.004],[6.0,0.003],[6.1,0.005],[6.2,0.003],[6.3,0.004],[6.4,0.002],[6.5,0.005],[6.6,0.003],[6.7,0.004],[6.8,0.01],[6.85,0.006],[6.9,0.008],[7.0,0.003],[7.1,0.004],[7.2,0.002],[7.3,0.002],[7.4,0.003],[7.5,0.002],[7.6,0.005],[7.7,0.003],[7.8,0.002],[7.9,0.003],[8.0,0.002],[8.1,0.003],[8.2,0.002],[8.3,0.003],[8.4,0.001],[8.5,0.004],[8.6,0.003],[8.7,0.005],[8.8,0.003],[8.9,0.004],[9.0,0.006],[9.05,0.01],[9.1,0.008],[9.2,0.004],[9.3,0.005],[9.4,0.003],[9.5,0.004],[9.6,0.003],[9.7,0.005],[9.8,0.002],[9.9,0.004],[10,0.002]];

const fY: P[] = [[0,0.001],[0.2,0.001],[0.25,0.01],[0.3,0.04],[0.35,0.025],[0.4,0.03],[0.45,0.02],[0.5,0.028],[0.55,0.015],[0.6,0.025],[0.65,0.02],[0.7,0.015],[0.75,0.01],[0.8,0.012],[0.85,0.005],[0.9,0.01],[0.95,0.012],[1.0,0.008],[1.05,0.015],[1.09,0.05],[1.13,0.1],[1.17,0.05],[1.2,0.01],[1.25,0.043],[1.3,0.02],[1.35,0.03],[1.4,0.015],[1.45,0.025],[1.5,0.02],[1.55,0.04],[1.6,0.015],[1.7,0.012],[1.8,0.018],[1.9,0.025],[2.0,0.01],[2.1,0.015],[2.2,0.02],[2.3,0.012],[2.4,0.025],[2.5,0.018],[2.6,0.035],[2.65,0.025],[2.7,0.053],[2.75,0.02],[2.8,0.025],[2.9,0.015],[3.0,0.02],[3.1,0.01],[3.2,0.015],[3.3,0.012],[3.4,0.018],[3.5,0.01],[3.6,0.015],[3.7,0.012],[3.8,0.02],[3.9,0.018],[4.0,0.01],[4.1,0.025],[4.2,0.052],[4.3,0.04],[4.4,0.025],[4.5,0.015],[4.6,0.02],[4.7,0.01],[4.8,0.015],[4.9,0.008],[5.0,0.012],[5.1,0.02],[5.2,0.008],[5.3,0.015],[5.4,0.01],[5.5,0.012],[5.6,0.006],[5.7,0.01],[5.8,0.008],[5.9,0.012],[6.0,0.01],[6.1,0.015],[6.2,0.02],[6.3,0.01],[6.4,0.008],[6.5,0.012],[6.6,0.015],[6.7,0.01],[6.8,0.022],[6.85,0.015],[6.9,0.025],[7.0,0.012],[7.1,0.018],[7.2,0.008],[7.3,0.015],[7.4,0.006],[7.5,0.012],[7.6,0.015],[7.7,0.008],[7.8,0.01],[7.9,0.006],[8.0,0.012],[8.1,0.005],[8.2,0.01],[8.3,0.008],[8.4,0.005],[8.5,0.01],[8.6,0.008],[8.7,0.015],[8.8,0.005],[8.9,0.01],[9.0,0.015],[9.05,0.03],[9.1,0.02],[9.2,0.01],[9.3,0.004],[9.4,0.012],[9.5,0.008],[9.6,0.015],[9.7,0.012],[9.8,0.015],[9.9,0.008],[10,0.005]];

const fZ: P[] = [[0,0.001],[0.2,0.001],[0.25,0.02],[0.3,0.06],[0.35,0.055],[0.4,0.06],[0.45,0.045],[0.5,0.035],[0.55,0.04],[0.6,0.03],[0.65,0.04],[0.7,0.025],[0.75,0.02],[0.8,0.015],[0.85,0.02],[0.9,0.01],[0.95,0.02],[1.0,0.03],[1.05,0.04],[1.09,0.1],[1.13,0.2],[1.17,0.08],[1.2,0.015],[1.25,0.06],[1.3,0.04],[1.35,0.055],[1.4,0.03],[1.45,0.05],[1.5,0.065],[1.55,0.04],[1.6,0.065],[1.65,0.035],[1.7,0.03],[1.8,0.025],[1.9,0.055],[1.95,0.05],[2.0,0.02],[2.05,0.01],[2.1,0.015],[2.2,0.03],[2.3,0.01],[2.35,0.03],[2.4,0.025],[2.5,0.04],[2.55,0.02],[2.6,0.05],[2.65,0.04],[2.7,0.075],[2.75,0.03],[2.8,0.05],[2.9,0.035],[3.0,0.04],[3.1,0.03],[3.2,0.035],[3.3,0.025],[3.4,0.03],[3.5,0.02],[3.6,0.03],[3.7,0.025],[3.8,0.045],[3.85,0.035],[3.9,0.03],[4.0,0.04],[4.1,0.05],[4.2,0.045],[4.3,0.06],[4.4,0.05],[4.45,0.06],[4.5,0.02],[4.6,0.025],[4.7,0.02],[4.8,0.03],[4.9,0.02],[5.0,0.025],[5.1,0.015],[5.2,0.03],[5.3,0.02],[5.4,0.025],[5.5,0.018],[5.6,0.022],[5.7,0.015],[5.8,0.02],[5.9,0.018],[6.0,0.025],[6.1,0.02],[6.2,0.03],[6.3,0.02],[6.4,0.025],[6.5,0.015],[6.6,0.02],[6.7,0.025],[6.8,0.065],[6.85,0.03],[6.9,0.045],[7.0,0.02],[7.1,0.025],[7.2,0.01],[7.3,0.015],[7.4,0.012],[7.5,0.015],[7.6,0.03],[7.7,0.015],[7.8,0.012],[7.9,0.018],[8.0,0.01],[8.1,0.015],[8.2,0.012],[8.3,0.018],[8.4,0.01],[8.5,0.025],[8.6,0.015],[8.7,0.02],[8.8,0.015],[8.9,0.03],[9.0,0.04],[9.1,0.065],[9.2,0.025],[9.3,0.02],[9.4,0.03],[9.5,0.02],[9.6,0.025],[9.7,0.035],[9.8,0.02],[9.9,0.03],[10,0.015]];

// ---------- axis limits and y ticks ----------
const timeYDomains: [number, number][][] = [
  [[-5.65, 5.5], [-1, 1], [-0.64, 0.675]],
  [[-2.0, 2.08], [-0.5, 0.5], [-1.11, 1.22]],
  [[-0.2, 0.2], [-0.53, 0.69], [-0.95, 1.13]],
];
const timeYTicks: number[][][] = [
  [[-5, 0, 5], [-1, 0, 1], [-0.5, 0, 0.5]],
  [[-2, 0, 2], [-0.5, 0, 0.5], [-1, 0, 1]],
  [[-0.2, 0, 0.2], [-0.5, 0, 0.5], [-0.5, 0, 0.5, 1]],
];
const freqYDomains: [number, number][][] = [
  [[0, 2.35], [0, 0.28], [0, 0.273]],
  [[0, 0.745], [0, 0.05], [0, 0.5]],
  [[0, 0.04], [0, 0.1], [0, 0.2]],
];
const freqYTicks: number[][][] = [
  [[0, 1, 2], [0, 0.1, 0.2], [0, 0.1, 0.2]],
  [[0, 0.5], [0, 0.05], [0, 0.5]],
  [[0, 0.02, 0.04], [0, 0.05, 0.1], [0, 0.1, 0.2]],
];
const timeSeries: P[][][] = [[aX, aY, aZ], [cX, cY, cZ], [eX, eY, eZ]];
const freqSeries: P[][][] = [[bX, bY, bZ], [dX, dY, dZ], [fX, fY, fZ]];

// annotation labels: [text, freq, amplitude] per subplot
type Ann = [string, number, number];
const freqAnnotations: Ann[][][] = [
  [[['1.13 Hz', 1.29, 1.87]], [['1.13 Hz', 1.29, 0.213], ['4.19 Hz', 3.92, 0.08]], [['1.13 Hz', 1.38, 0.215]]],
  [[['1.13 Hz', 1.33, 0.6]], [['1.13 Hz', 1.36, 0.0377], ['4.19 Hz', 4.22, 0.0387]], [['1.13 Hz', 1.36, 0.383]]],
  [[['1.13 Hz', 1.27, 0.0314]], [['1.13 Hz', 1.29, 0.0837], ['4.19 Hz', 4.05, 0.0709]], [['1.13 Hz', 1.29, 0.165]]],
];

// ---------- layout ----------
const W = 685;
const H = 900;
const ROW_TOP = [12.7, 322.2, 631.7];
const SUB_STEP = 81.6;
const SUB_H = 51.5;
const LEFT = [31.7, 315];
const RIGHT = [397.3, 680.7];
const YLABEL_X_LEFT = [12, 5.5, 5.5];
const YLABEL_X_RIGHT = [373.3, 370, 369];

const SANS = '"Liberation Sans", Arial, Helvetica, sans-serif';
const SERIF = '"Liberation Serif", "Times New Roman", serif';
const LINE = '#0072BD';
const AX = '#262626';
const TICK_LEN = 2.8;
const TICK_FS = 9;
const TITLE_FS = 9.8;
const LABEL_FS = 9.6;

function fmt(v: number) {
  return String(v);
}

interface SubProps {
  id: string;
  x0: number;
  x1: number;
  top: number;
  data: P[];
  xDomain: [number, number];
  xTicks: number[];
  yDomain: [number, number];
  yTicks: number[];
  title: string;
  smooth: boolean;
  anns?: Ann[];
}

function Subplot({ id, x0, x1, top, data, xDomain, xTicks, yDomain, yTicks, title, smooth, anns }: SubProps) {
  const bottom = top + SUB_H;
  const x = d3.scaleLinear().domain(xDomain).range([x0, x1]);
  const y = d3.scaleLinear().domain(yDomain).range([bottom, top]);
  const line = d3
    .line<P>()
    .x((d) => x(d[0]))
    .y((d) => y(d[1]))
    .curve(smooth ? d3.curveMonotoneX : d3.curveLinear);
  return (
    <g>
      <defs>
        <clipPath id={id}>
          <rect x={x0} y={top} width={x1 - x0} height={SUB_H} />
        </clipPath>
      </defs>
      <rect x={x0} y={top} width={x1 - x0} height={SUB_H} fill="#fff" />
      <path d={line(data) || ''} fill="none" stroke={LINE} strokeWidth={0.75} clipPath={`url(#${id})`} strokeLinejoin="round" />
      <rect x={x0} y={top} width={x1 - x0} height={SUB_H} fill="none" stroke={AX} strokeOpacity={0.75} strokeWidth={0.6} />
      {xTicks.map((t) => (
        <g key={'xt' + t}>
          <line x1={x(t)} x2={x(t)} y1={bottom} y2={bottom - TICK_LEN} stroke={AX} strokeWidth={0.6} />
          <line x1={x(t)} x2={x(t)} y1={top} y2={top + TICK_LEN} stroke={AX} strokeWidth={0.6} />
          <text x={x(t)} y={bottom + 10.8} textAnchor="middle" dominantBaseline="middle" fontFamily={SANS} fontSize={TICK_FS} fill={AX}>
            {fmt(t)}
          </text>
        </g>
      ))}
      {yTicks.map((t) => (
        <g key={'yt' + t}>
          <line x1={x0} x2={x0 + TICK_LEN} y1={y(t)} y2={y(t)} stroke={AX} strokeWidth={0.6} />
          <line x1={x1} x2={x1 - TICK_LEN} y1={y(t)} y2={y(t)} stroke={AX} strokeWidth={0.6} />
          <text x={x0 - 4} y={y(t)} textAnchor="end" dominantBaseline="middle" fontFamily={SANS} fontSize={TICK_FS} fill={AX}>
            {fmt(t)}
          </text>
        </g>
      ))}
      <text x={(x0 + x1) / 2} y={top - 6.8} textAnchor="middle" dominantBaseline="middle" fontFamily={SANS} fontSize={TITLE_FS} fontWeight="bold" fill="#000">
        {title}
      </text>
      {(anns || []).map((a, i) => (
        <text key={'an' + i} x={x(a[1])} y={y(a[2])} dominantBaseline="middle" fontFamily={SANS} fontSize={TICK_FS} fill={AX}>
          {a[0]}
        </text>
      ))}
    </g>
  );
}

export default function App() {
  const rows = [0, 1, 2];
  return (
    <svg width={W} height={H} viewBox={`0 0 ${W} ${H}`} style={{ position: 'absolute', left: 0, top: 0, background: '#fff' }}>
      <rect x={0} y={0} width={W} height={H} fill="#fff" />
      {rows.map((r) => {
        const lastBottom = ROW_TOP[r] + 2 * SUB_STEP + SUB_H;
        const midY = ROW_TOP[r] + SUB_STEP + SUB_H / 2;
        return (
          <g key={'row' + r}>
            {[0, 1, 2].map((s) => (
              <Subplot
                key={'t' + s}
                id={`clipT${r}${s}`}
                x0={LEFT[0]}
                x1={LEFT[1]}
                top={ROW_TOP[r] + s * SUB_STEP}
                data={timeSeries[r][s]}
                xDomain={[0, 25]}
                xTicks={timeTicks}
                yDomain={timeYDomains[r][s]}
                yTicks={timeYTicks[r][s]}
                title={timeTitles[s]}
                smooth={r < 2}
              />
            ))}
            {[0, 1, 2].map((s) => (
              <Subplot
                key={'f' + s}
                id={`clipF${r}${s}`}
                x0={RIGHT[0]}
                x1={RIGHT[1]}
                top={ROW_TOP[r] + s * SUB_STEP}
                data={freqSeries[r][s]}
                xDomain={[0, 10]}
                xTicks={freqTicks}
                yDomain={freqYDomains[r][s]}
                yTicks={freqYTicks[r][s]}
                title={freqTitles[s]}
                smooth={false}
                anns={freqAnnotations[r][s]}
              />
            ))}
            <text x={(LEFT[0] + LEFT[1]) / 2} y={lastBottom + 22.8} textAnchor="middle" dominantBaseline="middle" fontFamily={SANS} fontSize={LABEL_FS} fill={AX}>
              Time [s]
            </text>
            <text x={(RIGHT[0] + RIGHT[1]) / 2} y={lastBottom + 22.8} textAnchor="middle" dominantBaseline="middle" fontFamily={SANS} fontSize={LABEL_FS} fill={AX}>
              Frequency [Hz]
            </text>
            <text transform={`translate(${YLABEL_X_LEFT[r]},${midY}) rotate(-90)`} textAnchor="middle" dominantBaseline="middle" fontFamily={SANS} fontSize={LABEL_FS} fill={AX}>
              Displacement [mm]
            </text>
            <text transform={`translate(${YLABEL_X_RIGHT[r]},${midY}) rotate(-90)`} textAnchor="middle" dominantBaseline="middle" fontFamily={SANS} fontSize={LABEL_FS} fill={AX}>
              |Amplitude|
            </text>
            <text x={(LEFT[0] + LEFT[1]) / 2} y={lastBottom + 45} textAnchor="middle" dominantBaseline="middle" fontFamily={SERIF} fontSize={15} fill="#000">
              {captionsLeft[r]}
            </text>
            <text x={(RIGHT[0] + RIGHT[1]) / 2} y={lastBottom + 45} textAnchor="middle" dominantBaseline="middle" fontFamily={SERIF} fontSize={15} fill="#000">
              {captionsRight[r]}
            </text>
          </g>
        );
      })}
    </svg>
  );
}
